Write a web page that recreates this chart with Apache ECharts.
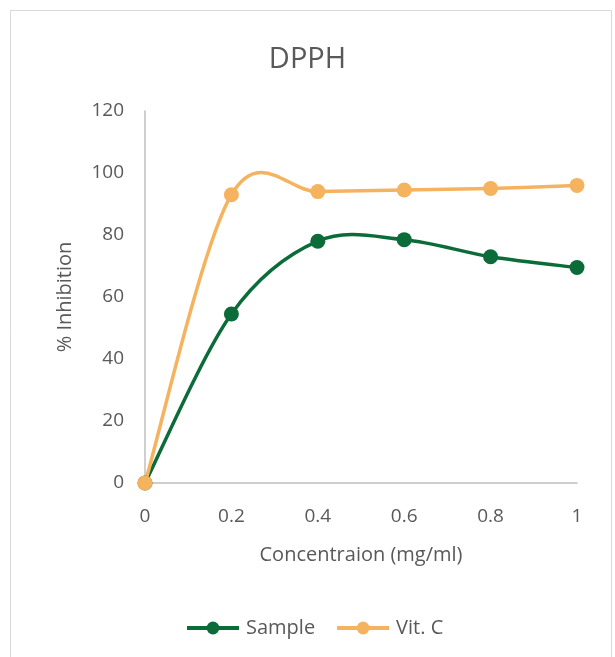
<!DOCTYPE html>
<html>
<head>
<meta charset="utf-8">
<script src="https://cdn.jsdelivr.net/npm/echarts@6/dist/echarts.min.js"></script>
<style>
html,body{margin:0;padding:0;background:#fff;}
#chart{width:615px;height:657px;}
</style>
</head>
<body>
<div id="chart"></div>
<script>
const concentrations = [0, 0.2, 0.4, 0.6, 0.8, 1];
const sampleValues = [0, 54.5, 78, 78.5, 73, 69.5];
const vitCValues = [0, 93, 94, 94.5, 95, 96];
const xTicks = [0, 0.2, 0.4, 0.6, 0.8, 1];
const yTicks = [0, 20, 40, 60, 80, 100, 120];

const FONT = 'Open Sans';
const TXT = '#595959';
const GREEN = '#0B6B39';
const ORANGE = '#F6B35F';

function pairs(values) { return concentrations.map((c, i) => [c, values[i]]); }

// Excel-like smoothed curve (Catmull-Rom -> cubic Bezier), drawn in pixel space via api.coord
function curveSeries(name, values, color, z) {
  const data = pairs(values);
  return {
    name: name, type: 'custom', coordinateSystem: 'cartesian2d',
    data: data, z: z, silent: true, clip: false,
    encode: {x: 0, y: 1},
    renderItem: function (params, api) {
      const i = params.dataIndex;
      const n = data.length;
      if (i >= n - 1) return null;
      const P = data.map(d => api.coord(d));
      const p0 = P[Math.max(i - 1, 0)], p1 = P[i], p2 = P[i + 1], p3 = P[Math.min(i + 2, n - 1)];
      const k = 1 / 6;
      return {
        type: 'bezierCurve',
        shape: {
          x1: p1[0], y1: p1[1], x2: p2[0], y2: p2[1],
          cpx1: p1[0] + (p2[0] - p0[0]) * k, cpy1: p1[1] + (p2[1] - p0[1]) * k,
          cpx2: p2[0] - (p3[0] - p1[0]) * k, cpy2: p2[1] - (p3[1] - p1[1]) * k
        },
        style: {stroke: color, lineWidth: 3.5, fill: null, lineCap: 'round'}
      };
    }
  };
}

const chart = echarts.init(document.getElementById('chart'), null, {renderer: 'canvas'});
chart.setOption({
  backgroundColor: '#fff',
  animation: false,
  graphic: [{
    type: 'rect',
    shape: {x: 10.5, y: 10.5, width: 601, height: 660},
    style: {fill: 'none', stroke: '#D9D9D9', lineWidth: 1},
    silent: true, z: -1
  }],
  title: {
    text: 'DPPH',
    left: 'center',
    top: 40,
    textStyle: {fontFamily: FONT, fontSize: 29, fontWeight: 'normal', color: TXT}
  },
  legend: {
    bottom: 14,
    left: 180,
    itemWidth: 52,
    itemHeight: 16,
    itemGap: 20,
    textStyle: {fontFamily: FONT, fontSize: 20, color: TXT, padding: [0, 0, 0, 2]},
    data: [
      {name: 'Sample', lineStyle: {color: GREEN, width: 4, opacity: 1}},
      {name: 'Vit. C', lineStyle: {color: ORANGE, width: 4, opacity: 1}}
    ]
  },
  grid: {left: 145, right: 38, top: 111, bottom: 174, containLabel: false},
  xAxis: {
    type: 'value',
    min: xTicks[0], max: xTicks[xTicks.length - 1], interval: 0.2,
    name: 'Concentraion (mg/ml)',
    nameLocation: 'middle',
    nameGap: 62,
    nameTextStyle: {fontFamily: FONT, fontSize: 20, color: TXT},
    axisLine: {show: true, lineStyle: {color: '#BFBFBF', width: 1.5}},
    axisTick: {show: false},
    splitLine: {show: false},
    axisLabel: {fontFamily: FONT, fontSize: 19, color: TXT, margin: 24,
      formatter: v => String(Math.round(v * 10) / 10)}
  },
  yAxis: {
    type: 'value',
    min: yTicks[0], max: yTicks[yTicks.length - 1], interval: 20,
    name: '% Inhibition',
    nameLocation: 'middle',
    nameGap: 70,
    nameRotate: 90,
    nameTextStyle: {fontFamily: FONT, fontSize: 20, color: TXT},
    axisLine: {show: true, lineStyle: {color: '#BFBFBF', width: 1.5}},
    axisTick: {show: false},
    splitLine: {show: false},
    axisLabel: {fontFamily: FONT, fontSize: 19, color: TXT, margin: 21}
  },
  series: [
    curveSeries('Sample curve', sampleValues, GREEN, 1),
    curveSeries('Vit. C curve', vitCValues, ORANGE, 2),
    {
      name: 'Sample', type: 'line',
      data: pairs(sampleValues),
      symbol: 'circle', symbolSize: 15,
      lineStyle: {color: GREEN, width: 0, opacity: 0},
      itemStyle: {color: GREEN},
      z: 3
    },
    {
      name: 'Vit. C', type: 'line',
      data: pairs(vitCValues),
      symbol: 'circle', symbolSize: 15,
      lineStyle: {color: ORANGE, width: 0, opacity: 0},
      itemStyle: {color: ORANGE},
      z: 4
    }
  ]
});
</script>
</body>
</html>
